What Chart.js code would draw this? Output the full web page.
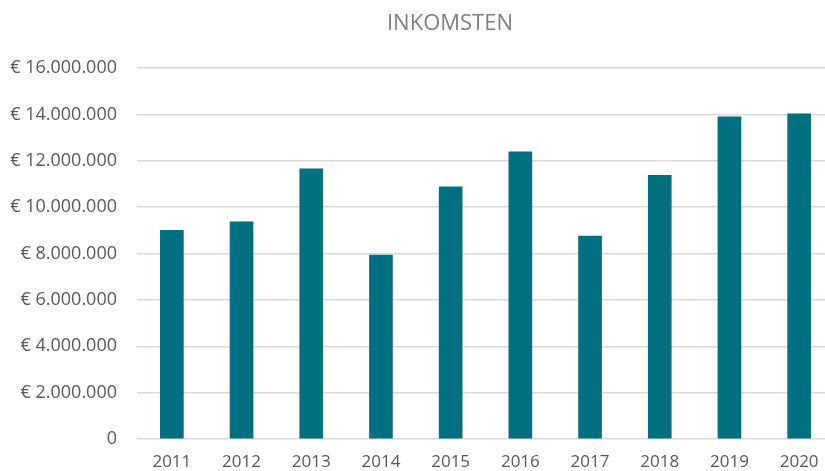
<!DOCTYPE html>
<html>
<head>
<meta charset="utf-8">
<script src="https://cdn.jsdelivr.net/npm/chart.js@4/dist/chart.umd.min.js"></script>
<style>
  body { margin: 0; overflow: hidden; background: #fff; }
</style>
</head>
<body>
<canvas id="inkomsten" width="836" height="471"></canvas>
<script>
// Jaren en inkomsten (in euro)
const jaren = ['2011', '2012', '2013', '2014', '2015', '2016', '2017', '2018', '2019', '2020'];
const inkomsten = [9000000, 9370000, 11650000, 7930000, 10880000, 12380000, 8750000, 11370000, 13890000, 14020000];
const titel = 'INKOMSTEN';

// Euro-notatie met punten als duizendtal-scheiding
function euro(waarde) {
    if (waarde === 0) return '0';
    return '€ ' + waarde.toLocaleString('nl-NL');
}

// Titel iets links van het midden, zoals in het origineel
const titelPlugin = {
    id: 'titel',
    afterDraw(chart) {
        const ctx = chart.ctx;
        ctx.save();
        ctx.font = '22px "Open Sans"';
        ctx.fillStyle = '#7f7f7f';
        ctx.textAlign = 'center';
        ctx.textBaseline = 'middle';
        ctx.fillText(titel, 450, 24);
        ctx.restore();
    }
};

const ctx = document.getElementById('inkomsten').getContext('2d');
new Chart(ctx, {
    type: 'bar',
    data: {
        labels: jaren,
        datasets: [{
            label: titel,
            data: inkomsten,
            backgroundColor: '#006f7f',
            barThickness: 23
        }]
    },
    options: {
        responsive: false,
        animation: false,
        layout: { padding: { top: 68, right: 2, bottom: 0, left: 0 } },
        plugins: {
            legend: { display: false },
            title: { display: false },
            tooltip: { enabled: false }
        },
        scales: {
            x: {
                grid: { display: false, drawTicks: false },
                border: { display: false },
                ticks: {
                    color: '#595959',
                    font: { family: 'Open Sans', size: 17 },
                    padding: 13,
                    maxRotation: 0
                },
                afterFit(scale) { scale.height = 32; }
            },
            y: {
                min: 0,
                max: 16000000,
                grid: { color: '#d9d9d9', lineWidth: 1.5, drawTicks: false },
                border: { display: false },
                ticks: {
                    stepSize: 2000000,
                    color: '#595959',
                    font: { family: 'Open Sans', size: 18 },
                    padding: 20,
                    callback: (v) => euro(v)
                },
                afterFit(scale) { scale.width = 137; }
            }
        }
    },
    plugins: [titelPlugin]
});
</script>
</body>
</html>
